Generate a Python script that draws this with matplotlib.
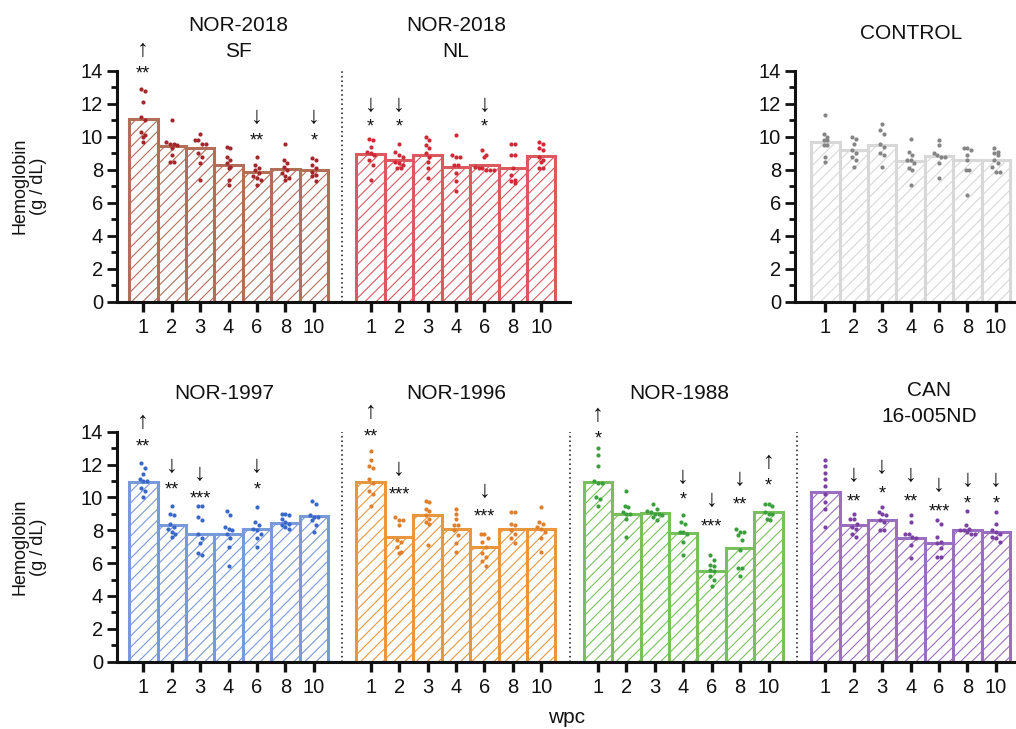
import numpy as np
import matplotlib

matplotlib.use("Agg")
import matplotlib.pyplot as plt
from matplotlib.ticker import MultipleLocator

plt.rcParams["font.family"] = ["Liberation Sans", "DejaVu Sans"]
plt.rcParams["hatch.linewidth"] = 0.8

WPC = ["1", "2", "3", "4", "6", "8", "10"]

# group means, hemoglobin g/dL, one value per wpc
SF_MEAN = [11.1, 9.45, 9.3, 8.3, 7.9, 8.05, 8.0]
NL_MEAN = [8.95, 8.6, 8.9, 8.2, 8.3, 8.1, 8.85]
CTRL_MEAN = [9.7, 9.2, 9.5, 8.55, 8.85, 8.6, 8.6]
N97_MEAN = [10.95, 8.35, 7.8, 7.8, 8.05, 8.45, 8.85]
N96_MEAN = [10.95, 7.6, 8.9, 8.1, 7.0, 8.1, 8.05]
N88_MEAN = [10.95, 9.0, 9.05, 7.85, 5.55, 6.9, 9.1]
CAN_MEAN = [10.35, 8.3, 8.6, 7.55, 7.2, 8.0, 7.9]

# individual fish
SF_DOTS = [
    [12.9, 12.8, 12.1, 11.2, 11.0, 10.3, 10.1, 9.7, 10.0],
    [11.0, 9.7, 9.6, 9.6, 9.5, 9.3, 8.9, 8.5, 8.5],
    [10.2, 9.8, 9.8, 9.6, 9.6, 9.0, 8.8, 8.4, 7.4],
    [9.4, 9.3, 8.8, 8.6, 8.4, 8.2, 8.1, 7.4, 7.1],
    [8.8, 8.3, 8.1, 8.0, 7.8, 7.6, 7.5, 7.4, 7.1],
    [9.6, 8.6, 8.4, 8.2, 8.0, 7.8, 7.6, 7.5, 7.4],
    [8.7, 8.6, 8.3, 8.1, 7.9, 7.7, 7.6, 7.3],
]
NL_DOTS = [
    [9.9, 9.8, 9.4, 9.1, 9.0, 8.9, 8.6, 8.3, 7.4],
    [9.6, 9.1, 8.9, 8.8, 8.5, 8.4, 8.3, 8.1, 8.1],
    [10.0, 9.8, 9.5, 9.3, 9.0, 8.8, 8.5, 8.1, 7.5],
    [10.1, 8.9, 8.8, 8.8, 8.3, 8.3, 7.8, 7.3, 6.7],
    [9.2, 8.9, 8.8, 8.2, 8.1, 8.0, 8.0, 8.0, 8.1],
    [9.6, 9.6, 8.9, 8.9, 8.1, 7.7, 7.4, 7.3, 7.2],
    [9.7, 9.6, 9.3, 9.2, 8.8, 8.6, 8.5, 8.1, 8.1],
]
CTRL_DOTS = [
    [11.3, 10.2, 10.0, 9.8, 9.8, 9.5, 9.5, 8.8, 8.5],
    [10.0, 9.9, 9.6, 9.2, 9.0, 8.8, 8.6, 8.2],
    [10.8, 10.4, 10.2, 9.6, 9.4, 9.0, 8.9, 8.2],
    [9.9, 9.1, 8.9, 8.6, 8.6, 8.4, 8.1, 8.0, 7.1],
    [9.8, 9.5, 9.0, 8.9, 8.8, 8.8, 8.4, 7.5],
    [9.3, 9.3, 9.2, 8.9, 8.6, 8.0, 8.0, 6.5],
    [9.3, 9.1, 9.0, 8.9, 8.6, 8.4, 8.2, 7.9, 7.9],
]
N97_DOTS = [
    [12.1, 11.8, 11.4, 11.1, 11.0, 11.0, 10.6, 10.4, 10.0],
    [9.5, 9.0, 8.9, 8.4, 8.2, 8.1, 7.9, 7.8, 7.6],
    [9.5, 9.5, 8.8, 8.6, 7.8, 7.5, 7.2, 6.6, 6.5],
    [9.2, 8.9, 8.2, 8.1, 8.0, 7.8, 7.5, 7.0, 5.8],
    [9.4, 8.5, 8.3, 8.1, 8.0, 7.8, 7.5, 7.0],
    [9.0, 9.0, 8.9, 8.7, 8.5, 8.4, 8.3, 8.2, 8.1],
    [9.8, 9.6, 8.9, 8.8, 8.8, 8.6, 8.3, 7.9],
]
N96_DOTS = [
    [12.8, 12.3, 11.9, 11.8, 11.1, 10.9, 10.4, 10.2, 9.5],
    [8.8, 8.6, 8.6, 8.3, 7.4, 7.3, 7.0, 6.7, 6.6],
    [9.8, 9.7, 9.3, 9.2, 8.9, 8.7, 8.5, 8.4, 7.1],
    [9.3, 9.0, 8.7, 8.3, 8.3, 8.0, 7.7, 7.2, 6.7],
    [7.8, 7.8, 7.5, 7.3, 7.0, 6.6, 6.4, 6.1, 5.8],
    [9.1, 9.1, 8.4, 8.3, 8.0, 7.8, 7.5, 7.2],
    [9.4, 8.5, 8.4, 8.2, 8.1, 7.9, 7.5, 6.7],
]
N88_DOTS = [
    [13.0, 12.6, 11.9, 11.0, 10.9, 10.9, 10.0, 9.9, 9.5],
    [10.4, 9.5, 9.4, 9.1, 9.0, 9.0, 8.7, 7.6],
    [9.6, 9.3, 9.2, 9.1, 9.0, 9.0, 8.9, 8.8, 8.6],
    [8.9, 8.5, 8.4, 7.9, 7.9, 7.8, 7.3, 6.5],
    [6.5, 6.2, 5.9, 5.8, 5.6, 5.5, 5.2, 5.0, 4.6],
    [8.1, 7.9, 7.9, 7.7, 7.4, 6.8, 5.7, 5.7, 5.2],
    [9.6, 9.6, 9.5, 9.1, 9.0, 9.0, 8.7, 8.6],
]
CAN_DOTS = [
    [12.3, 11.9, 11.5, 11.1, 10.7, 10.2, 9.7, 9.3, 8.2],
    [9.0, 8.7, 8.7, 8.4, 8.2, 8.1, 7.8, 7.6],
    [9.4, 9.1, 9.0, 8.9, 8.6, 8.5, 8.0, 8.0],
    [8.9, 8.5, 7.8, 7.8, 7.6, 7.5, 7.1, 6.3],
    [8.6, 8.4, 7.6, 7.3, 7.2, 6.9, 6.4, 6.4],
    [9.2, 8.3, 8.1, 8.0, 8.0, 7.9, 7.8, 7.8],
    [9.1, 8.4, 8.0, 7.9, 7.8, 7.6, 7.5, 7.3],
]

# significance vs control: (bar index, arrow, stars, star level, arrow level)
SF_SIG = [(0, "↑", "**", 14.15, 15.25), (4, "↓", "**", 10.05, 11.2), (6, "↓", "*", 10.05, 11.2)]
NL_SIG = [(0, "↓", "*", 10.9, 11.95), (1, "↓", "*", 10.9, 11.95), (4, "↓", "*", 10.9, 11.95)]
N97_SIG = [(0, "↑", "**", 13.4, 14.6), (1, "↓", "**", 10.75, 11.9),
           (2, "↓", "***", 10.25, 11.4), (4, "↓", "*", 10.75, 11.9)]
N96_SIG = [(0, "↑", "**", 14.0, 15.2), (1, "↓", "***", 10.5, 11.75), (4, "↓", "***", 9.15, 10.4)]
N88_SIG = [(0, "↑", "*", 13.9, 15.0), (3, "↓", "*", 10.15, 11.25), (4, "↓", "***", 8.5, 9.85),
           (5, "↓", "**", 9.85, 11.15), (6, "↑", "*", 11.05, 12.15)]
CAN_SIG = [(1, "↓", "**", 10.05, 11.35), (2, "↓", "*", 10.55, 11.85), (3, "↓", "**", 10.05, 11.35),
           (4, "↓", "***", 9.45, 10.75), (5, "↓", "*", 9.95, 11.05), (6, "↓", "*", 9.95, 11.05)]

INK = "#111111"
W, H = 1016, 729
FS = 15


def swarm(vals, step=0.13, gap=0.3):
    """Spread near-equal values side by side, like a prism scatter column."""
    order = np.argsort(vals)[::-1]
    xs = np.zeros(len(vals))
    cluster = []
    for i in list(order) + [None]:
        if i is None or (cluster and vals[cluster[0]] - vals[i] > gap):
            m = len(cluster)
            for k, j in enumerate(cluster):
                xs[j] = (k - (m - 1) / 2) * step
            cluster = []
        if i is not None:
            cluster.append(i)
    return np.clip(xs, -0.4, 0.4)


def group(ax, g, title, tx, ty, mean, dots, edge, dotc, sig=()):
    x0 = g * 8
    xs = np.arange(7) + x0
    ax.bar(xs, mean, width=1.0, facecolor="white", edgecolor=edge, hatch="///",
           linewidth=2.2, zorder=2)
    for x, d in zip(xs, dots):
        d = np.array(d, float)
        ax.scatter(x + swarm(d), d, s=9, color=dotc, lw=0, zorder=3)
    for i, arrow, stars, ys, ya in sig:
        ax.text(xs[i], ys - 0.6, stars, ha="center", va="baseline", fontsize=13, color=INK,
                clip_on=False)
        ax.text(xs[i], ya, arrow, ha="center", va="center", fontsize=17, color=INK,
                clip_on=False)
    ax.text(x0 + 3 + tx, ty, title, ha="center", va="center", fontsize=FS, color=INK,
            linespacing=1.45, clip_on=False)
    if g > 0:
        ax.plot([x0 - 1, x0 - 1], [0, 14], color=INK, lw=1.1, ls=(0, (1, 2)), zorder=1)


def style(ax, groups, xlim):
    ax.set_xlim(*xlim)
    ax.set_ylim(0, 14)
    ax.yaxis.set_major_locator(MultipleLocator(2))
    ax.yaxis.set_minor_locator(MultipleLocator(1))
    ticks = [g * 8 + i for g in groups for i in range(7)]
    ax.set_xticks(ticks)
    ax.set_xticklabels(WPC * len(groups))
    for s in ("top", "right"):
        ax.spines[s].set_visible(False)
    for s in ("left", "bottom"):
        ax.spines[s].set_linewidth(2.2)
        ax.spines[s].set_color(INK)
    ax.tick_params(axis="y", which="major", length=7, width=2, labelsize=14.5, pad=3, colors=INK)
    ax.tick_params(axis="y", which="minor", length=4, width=2, colors=INK)
    ax.tick_params(axis="x", length=7, width=2.4, labelsize=14.5, pad=5, colors=INK)


def frac(l, t, r, b):
    return [l / W, 1 - b / H, (r - l) / W, (b - t) / H]


fig = plt.figure(figsize=(W / 100, H / 100), dpi=100)
u0, u = 143.3, 28.42  # pixel of the first bar and pixels per bar slot


def lim(l, r):
    return ((l - u0) / u, (r - u0) / u)


ax_top = fig.add_axes(frac(117, 71, 570, 301.7))
ax_ctl = fig.add_axes(frac(795, 71, 1016, 301.7))
ax_bot = fig.add_axes(frac(117, 431.7, 1016, 661.7))

group(ax_top, 0, "NOR-2018\nSF", 0.35, 15.95, SF_MEAN, SF_DOTS, "#b36e5a", "#a3262b", SF_SIG)
group(ax_top, 1, "NOR-2018\nNL", 0.0, 15.95, NL_MEAN, NL_DOTS, "#da5a60", "#cf2a36", NL_SIG)
style(ax_top, [0, 1], lim(117, 570))

group(ax_ctl, 3, "CONTROL", 0.0, 16.3, CTRL_MEAN, CTRL_DOTS, "#d8d8d8", "#858585")
ax_ctl.lines[-1].remove()
style(ax_ctl, [3], lim(795, 1016))

group(ax_bot, 0, "NOR-1997", -0.15, 16.35, N97_MEAN, N97_DOTS, "#7899da", "#3a68c8", N97_SIG)
group(ax_bot, 1, "NOR-1996", 0.0, 16.35, N96_MEAN, N96_DOTS, "#e9973f", "#e07f2c", N96_SIG)
group(ax_bot, 2, "NOR-1988", -0.15, 16.35, N88_MEAN, N88_DOTS, "#78c05c", "#3b9f3d", N88_SIG)
group(ax_bot, 3, "CAN\n16-005ND", 0.65, 15.7, CAN_MEAN, CAN_DOTS, "#9b6fbf", "#7a40a2", CAN_SIG)
style(ax_bot, [0, 1, 2, 3], lim(117, 1016))
ax_bot.set_xlabel("wpc", fontsize=FS, color=INK, labelpad=8)

for yc in (186, 547):
    fig.text(29 / W, 1 - yc / H, "Hemoglobin\n(g / dL)", rotation=90, ha="center", va="center",
             fontsize=13, color=INK, multialignment="center", linespacing=1.15)

fig.savefig("out.png", dpi=100, facecolor="white")
